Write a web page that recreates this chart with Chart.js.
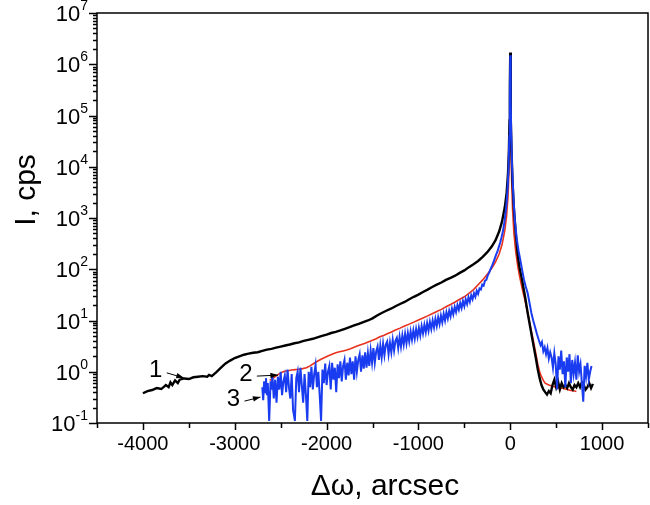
<!DOCTYPE html>
<html>
<head>
<meta charset="utf-8">
<script src="https://cdn.jsdelivr.net/npm/chart.js@4.4.1/dist/chart.umd.min.js"></script>
<style>
  html, body { margin: 0; padding: 0; background: #fff; }
  #wrap { width: 650px; height: 505px; }
</style>
</head>
<body>
<div id="wrap"><canvas id="chart" width="650" height="505"></canvas></div>
<script>
// axis ticks
const xMajorTicks = [-4000, -3000, -2000, -1000, 0, 1000];
const xMinorTicks = [-4500, -3500, -2500, -1500, -500, 500, 1500];
const yExponents = [-1, 0, 1, 2, 3, 4, 5, 6, 7];

// curve 1 (black)
const curve1X = [-4000, -3950, -3900, -3850, -3800, -3750, -3720, -3700, -3680, -3650, -3620, -3600, -3550, -3500, -3450, -3400, -3350, -3300, -3280, -3250,
  -3200, -3150, -3100, -3050, -3000, -2950, -2900, -2850, -2800, -2750, -2700, -2650, -2600, -2550, -2500, -2450, -2400, -2350, -2300, -2250,
  -2200, -2150, -2100, -2050, -2000, -1950, -1900, -1850, -1800, -1750, -1700, -1650, -1600, -1550, -1500, -1450, -1400, -1350, -1300, -1250,
  -1200, -1150, -1100, -1050, -1000, -950, -900, -850, -800, -750, -700, -650, -600, -550, -500, -450, -400, -350, -300, -250,
  -200, -160, -120, -90, -60, -40, -25, -15, -8, -4, 0, 4, 8, 15, 25, 40, 60, 80, 100, 130,
  160, 190, 220, 250, 280, 300, 320, 340, 360, 380, 400, 420, 440, 460, 480, 500, 520, 540, 560, 580,
  600, 620, 640, 660, 680, 700, 720, 740, 760, 780, 800, 820, 840, 860, 880, 900];
const curve1Y = [0.38, 0.42, 0.44, 0.48, 0.46, 0.55, 0.5, 0.62, 0.55, 0.68, 0.6, 0.7, 0.74, 0.72, 0.78, 0.8, 0.82, 0.8, 0.87, 0.82,
  0.98, 1.2, 1.45, 1.65, 1.85, 2.0, 2.15, 2.25, 2.35, 2.4, 2.55, 2.7, 2.8, 2.95, 3.1, 3.25, 3.4, 3.6, 3.75, 4.0,
  4.2, 4.4, 4.7, 5.0, 5.3, 5.7, 6.0, 6.4, 6.9, 7.4, 8.0, 8.6, 9.3, 10, 11, 12.5, 14, 15.5, 17, 19,
  21, 23, 26, 29, 32, 36, 40, 45, 50, 55, 62, 68, 75, 85, 95, 110, 125, 145, 175, 215,
  280, 370, 550, 850, 1600, 3000, 7000, 20000, 80000, 400000, 1700000, 400000, 80000, 18000, 5000, 1500, 500, 200, 110, 60,
  30, 14, 7, 3.5, 1.8, 1.1, 0.75, 0.55, 0.45, 0.4, 0.36, 0.42, 0.38, 0.55, 0.7, 0.5, 0.65, 0.45, 0.6, 0.5,
  0.55, 0.48, 0.6, 0.5, 0.45, 0.55, 0.5, 0.6, 0.5, 0.62, 0.55, 0.45, 0.5, 0.6, 0.48, 0.58];

// curve 2 (red)
const curve2X = [-2620, -2580, -2540, -2500, -2460, -2420, -2380, -2340, -2300, -2260, -2220, -2180, -2140, -2100, -2060, -2020, -1980, -1940, -1900, -1860,
  -1820, -1780, -1740, -1700, -1660, -1620, -1580, -1540, -1500, -1460, -1420, -1380, -1340, -1300, -1250, -1200, -1150, -1100, -1050, -1000,
  -950, -900, -850, -800, -750, -700, -650, -600, -550, -500, -450, -400, -350, -300, -250, -200, -160, -120, -90, -60,
  -40, -25, -15, -8, -4, 0, 4, 8, 15, 25, 40, 60, 80, 100, 130, 160, 190, 220, 250, 280,
  300, 320, 340, 360, 380, 420, 460, 500, 540, 580, 620, 660, 700, 720];
const curve2Y = [0.68, 0.75, 0.85, 0.95, 1.02, 1.05, 1.08, 1.1, 1.12, 1.15, 1.2, 1.3, 1.45, 1.6, 1.75, 1.9, 2.05, 2.2, 2.35, 2.45,
  2.55, 2.65, 2.8, 3.0, 3.2, 3.4, 3.6, 3.85, 4.1, 4.4, 4.8, 5.1, 5.5, 5.9, 6.5, 7.1, 7.8, 8.5, 9.3, 10.2,
  11.2, 12.3, 13.6, 15, 16.5, 18.5, 20.5, 23, 26, 29, 34, 40, 50, 62, 80, 105, 140, 200, 300, 560,
  1100, 2500, 7000, 30000, 200000, 1400000, 200000, 30000, 6000, 1500, 500, 220, 120, 75, 42, 25, 14, 7.5, 4.2, 2.2,
  1.4, 1.0, 0.8, 0.68, 0.6, 0.55, 0.52, 0.5, 0.48, 0.47, 0.45, 0.43, 0.42, 0.41];

// curve 3 (blue)
const curve3X = [-2700, -2690, -2680, -2670, -2660, -2650, -2640, -2625, -2610, -2600, -2590, -2575, -2560, -2545, -2530, -2515, -2500, -2485, -2470, -2455,
  -2440, -2425, -2410, -2395, -2380, -2365, -2345, -2330, -2315, -2300, -2285, -2270, -2255, -2240, -2225, -2210, -2195, -2180, -2165, -2150,
  -2135, -2120, -2105, -2090, -2075, -2060, -2045, -2030, -2015, -2000, -1985, -1970, -1955, -1940, -1925, -1910, -1895, -1880, -1865, -1850,
  -1835, -1820, -1805, -1790, -1775, -1760, -1745, -1730, -1715, -1700, -1685, -1670, -1655, -1640, -1625, -1610, -1595, -1580, -1565, -1550,
  -1535, -1520, -1505, -1490, -1475, -1460, -1445, -1430, -1415, -1400, -1385, -1370, -1355, -1340, -1325, -1310, -1295, -1280, -1265, -1250,
  -1235, -1220, -1205, -1190, -1175, -1160, -1145, -1130, -1115, -1100, -1085, -1070, -1055, -1040, -1025, -1010, -995, -980, -965, -950,
  -935, -920, -905, -890, -875, -860, -845, -830, -815, -800, -785, -770, -755, -740, -725, -710, -695, -680, -665, -650,
  -635, -620, -605, -590, -575, -560, -545, -530, -515, -500, -485, -470, -455, -440, -425, -410, -395, -380, -365, -350,
  -335, -320, -305, -290, -275, -260, -245, -230, -215, -200, -185, -170, -155, -140, -125, -110, -95, -80, -65, -50,
  -40, -30, -20, -10, -5, 0, 5, 10, 20, 35, 50, 70, 90, 110, 130, 150, 170, 190, 210, 230,
  250, 270, 290, 310, 330, 345, 360, 375, 390, 405, 420, 435, 450, 465, 480, 495, 510, 525, 540, 555,
  570, 585, 600, 615, 630, 645, 660, 675, 690, 705, 720, 735, 750, 765, 780, 795, 810, 825, 840, 855,
  870, 885];
const curve3Y = [0.5, 0.28, 0.65, 0.4, 0.75, 0.35, 0.6, 0.11, 0.65, 0.45, 0.85, 0.3, 0.7, 0.25, 0.8, 0.45, 1.0, 0.35, 0.65, 0.85,
  0.4, 1.1, 0.5, 0.3, 0.9, 0.18, 0.11, 0.75, 1.0, 0.4, 1.2, 0.55, 0.25, 0.9, 0.35, 0.11, 1.0, 0.5, 1.25, 0.45,
  0.9, 1.35, 0.5, 1.0, 0.35, 0.11, 1.1, 0.6, 1.45, 0.55, 1.0, 1.3, 0.45, 1.5, 0.7, 1.2, 0.4, 1.4, 0.75, 1.6,
  0.65, 1.3, 1.7, 0.7, 1.5, 0.85, 1.9, 0.9, 1.6, 0.7, 2.0, 1.0, 1.7, 2.2, 1.0, 2.1, 1.15, 2.4, 1.2, 2.3,
  1.3, 2.6, 1.5, 2.9, 1.5, 2.5, 3.1, 1.7, 3.2, 1.9, 3.5, 2.1, 3.4, 3.9, 2.2, 3.7, 2.4, 4.2, 2.6, 4.0,
  4.6, 2.9, 4.8, 3.1, 5.1, 3.4, 5.5, 3.6, 5.7, 3.9, 6.1, 4.2, 6.4, 4.4, 6.8, 4.8, 7.2, 5.1, 7.8, 5.6,
  8.2, 5.9, 8.9, 6.3, 9.4, 6.8, 10, 7.3, 10.8, 7.8, 11.5, 8.5, 12.5, 9.2, 13.5, 10, 14.5, 11, 15.5, 12,
  17, 13.2, 18.5, 14.6, 20, 16.2, 22, 17.5, 24, 19, 26, 21, 28.5, 23, 31, 26, 34, 29, 38, 33,
  42, 40, 50, 48, 60, 62, 76, 85, 100, 115, 135, 160, 190, 220, 270, 330, 420, 550, 800, 1300,
  2000, 3500, 8000, 40000, 200000, 1500000, 200000, 50000, 10000, 2500, 900, 400, 230, 150, 95, 62, 45, 34, 22, 14,
  10, 7.5, 5.5, 4.2, 3.3, 3.8, 2.5, 3.0, 2.2, 2.9, 1.8, 2.4, 1.9, 1.2, 2.3, 1.4, 0.45, 2.0, 1.1, 2.6,
  0.9, 1.6, 0.5, 1.9, 1.0, 2.2, 0.6, 1.7, 0.9, 1.5, 0.7, 2.1, 1.0, 1.4, 0.6, 0.26, 1.3, 0.8, 1.5, 0.7,
  1.0, 1.3];

function toPoints(xs, ys) {
    return xs.map((x, i) => ({ x: x, y: ys[i] }));
}

const FONT = '"Liberation Sans", Arial, sans-serif';

// frame, ticks, labels and the numbered arrows
const axesPlugin = {
    id: 'axesPlugin',
    afterDraw(chart) {
        const ctx = chart.ctx;
        const area = chart.chartArea;
        const xs = chart.scales.x;
        const ys = chart.scales.y;
        ctx.save();
        ctx.strokeStyle = '#000';
        ctx.fillStyle = '#000';
        ctx.lineWidth = 1.5;
        ctx.strokeRect(area.left, area.top, area.right - area.left, area.bottom - area.top);

        // x ticks
        ctx.beginPath();
        xMajorTicks.forEach(v => {
            const px = Math.round(xs.getPixelForValue(v)) + 0.5;
            ctx.moveTo(px, area.bottom);
            ctx.lineTo(px, area.bottom + 7);
        });
        xMinorTicks.forEach(v => {
            const px = Math.round(xs.getPixelForValue(v)) + 0.5;
            ctx.moveTo(px, area.bottom);
            ctx.lineTo(px, area.bottom + 5);
        });
        ctx.stroke();

        ctx.font = '20px ' + FONT;
        ctx.textAlign = 'center';
        ctx.textBaseline = 'top';
        xMajorTicks.forEach(v => {
            ctx.fillText(String(v), xs.getPixelForValue(v), area.bottom + 11);
        });

        // y ticks (log decades + minors)
        ctx.beginPath();
        yExponents.forEach((e, i) => {
            const py = Math.round(ys.getPixelForValue(Math.pow(10, e))) + 0.5;
            ctx.moveTo(area.left, py);
            ctx.lineTo(area.left - 8, py);
            if (i < yExponents.length - 1) {
                for (let m = 2; m <= 9; m++) {
                    const pm = Math.round(ys.getPixelForValue(m * Math.pow(10, e))) + 0.5;
                    ctx.moveTo(area.left, pm);
                    ctx.lineTo(area.left - 4, pm);
                }
            }
        });
        ctx.stroke();

        yExponents.forEach(e => {
            const py = ys.getPixelForValue(Math.pow(10, e));
            ctx.font = '14px ' + FONT;
            const supW = ctx.measureText(String(e)).width;
            const right = area.left - 9;
            ctx.textAlign = 'left';
            ctx.textBaseline = 'alphabetic';
            ctx.fillText(String(e), right - supW, py - 3);
            ctx.font = '22px ' + FONT;
            ctx.textAlign = 'right';
            ctx.fillText('10', right - supW, py + 8);
        });

        // axis titles
        ctx.font = '30px ' + FONT;
        ctx.textAlign = 'center';
        ctx.textBaseline = 'middle';
        ctx.fillText('\u0394\u03c9, arcsec', 385, 487);
        ctx.save();
        ctx.translate(27, 190);
        ctx.rotate(-Math.PI / 2);
        ctx.fillText('I, cps', 0, 0);
        ctx.restore();

        // numbered arrows
        const marks = [
            { text: '1', x: -3555, y: 0.76, dx: -28, dy: -7 },
            { text: '2', x: -2530, y: 0.86, dx: -32, dy: -1 },
            { text: '3', x: -2720, y: 0.32, dx: -27, dy: 2 }
        ];
        ctx.font = '24px ' + FONT;
        ctx.lineWidth = 1;
        marks.forEach(m => {
            const tx = xs.getPixelForValue(m.x);
            const ty = ys.getPixelForValue(m.y);
            const sx = tx + m.dx + 11;
            const sy = ty + m.dy + 2;
            ctx.beginPath();
            ctx.moveTo(sx, sy);
            ctx.lineTo(tx, ty);
            ctx.stroke();
            const ang = Math.atan2(ty - sy, tx - sx);
            ctx.beginPath();
            ctx.moveTo(tx, ty);
            ctx.lineTo(tx - 8 * Math.cos(ang - 0.35), ty - 8 * Math.sin(ang - 0.35));
            ctx.lineTo(tx - 8 * Math.cos(ang + 0.35), ty - 8 * Math.sin(ang + 0.35));
            ctx.closePath();
            ctx.fill();
            ctx.textAlign = 'center';
            ctx.textBaseline = 'middle';
            ctx.fillText(m.text, tx + m.dx, ty + m.dy);
        });
        ctx.restore();
    }
};

const ctx = document.getElementById('chart').getContext('2d');
new Chart(ctx, {
    type: 'line',
    data: {
        datasets: [
            {
                label: '3',
                data: toPoints(curve3X, curve3Y),
                borderColor: '#1a3cf0',
                borderWidth: 2,
                pointRadius: 0,
                tension: 0,
                order: 1
            },
            {
                label: '1',
                data: toPoints(curve1X, curve1Y),
                borderColor: '#000000',
                borderWidth: 2.4,
                pointRadius: 0,
                tension: 0,
                order: 2
            },
            {
                label: '2',
                data: toPoints(curve2X, curve2Y),
                borderColor: '#e8321e',
                borderWidth: 1.6,
                pointRadius: 0,
                tension: 0,
                order: 3
            }
        ]
    },
    options: {
        responsive: false,
        animation: false,
        devicePixelRatio: 1,
        layout: { padding: { top: 13, right: 2, left: 0, bottom: 0 } },
        plugins: {
            legend: { display: false },
            tooltip: { enabled: false }
        },
        scales: {
            x: {
                type: 'linear',
                min: -4500,
                max: 1500,
                grid: { display: false },
                border: { display: false },
                ticks: { display: false },
                afterFit: function(scale) { scale.height = 82; }
            },
            y: {
                type: 'logarithmic',
                min: 0.1,
                max: 1e7,
                grid: { display: false },
                border: { display: false },
                ticks: { display: false },
                afterFit: function(scale) { scale.width = 97; }
            }
        }
    },
    plugins: [axesPlugin]
});
</script>
</body>
</html>
